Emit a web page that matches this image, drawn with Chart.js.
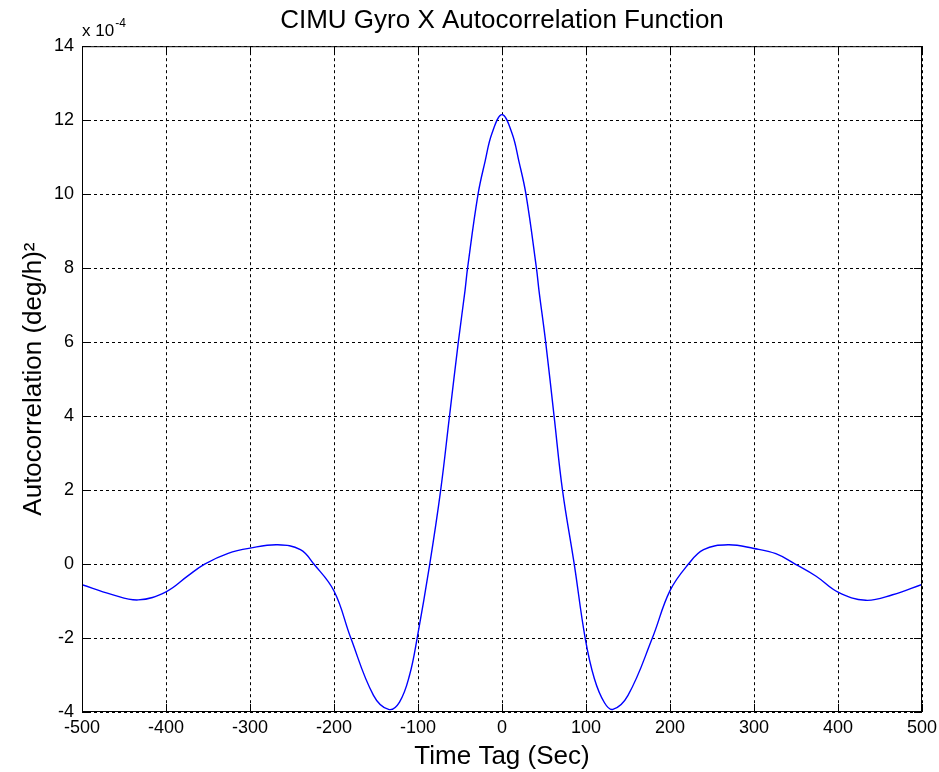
<!DOCTYPE html>
<html>
<head>
<meta charset="utf-8">
<script src="https://cdn.jsdelivr.net/npm/chart.js@4.4.1/dist/chart.umd.min.js"></script>
<style>
    html, body { margin: 0; padding: 0; background: #fff; }
    #acf-chart { display: block; }
</style>
</head>
<body>
<canvas id="acf-chart" width="939" height="772"></canvas>
<script>
// values, autocorrelation in units of 1e-4 (deg/h)^2
const lagSec = [
    -500, -465, -433, -400, -374, -354, -326, -300, -267, -240, -224, -200, -180,
    -153, -135, -122, -110, -101, -86, -73, -62.5, -52, -44, -41, -28.5, -20, -12,
    0,
    12, 20, 28.5, 41, 44, 52, 62, 72, 86, 99, 110, 122, 132, 150, 179, 200, 222,
    240, 269, 300, 326, 349, 374, 400, 433, 465, 500
];
const acfValues = [
    -0.56, -0.82, -0.97, -0.75, -0.32, 0.0, 0.29, 0.43, 0.52, 0.39, 0.0, -0.73, -2.0,
    -3.55, -3.93, -3.73, -3.0, -2.0, 0.0, 2.0, 4.0, 6.0, 7.4, 8.0, 10.0, 10.9, 11.64,
    12.15,
    11.64, 10.9, 10.0, 8.0, 7.4, 6.0, 4.0, 2.0, 0.0, -2.0, -3.1, -3.75, -3.93, -3.55, -2.0, -0.72, 0.0,
    0.39, 0.52, 0.42, 0.28, 0.0, -0.33, -0.76, -0.98, -0.83, -0.55
];
const xRange = [-500, 500];
const xStep = 100;
const yRange = [-4, 14];
const yStep = 2;

const titleText = 'CIMU Gyro X Autocorrelation Function';
const xTitle = 'Time Tag (Sec)';
const yTitle = 'Autocorrelation (deg/h)\u00B2';

const sansFont = "'Liberation Sans', Arial, sans-serif";

// matlab style box, inward ticks and the "x 10^-4" exponent
const axesBoxPlugin = {
    id: 'axesBox',
    afterDraw(chart) {
        const { ctx, chartArea: area, scales } = chart;
        const tickLen = 8;
        ctx.save();
        ctx.strokeStyle = '#000';
        ctx.lineWidth = 1;
        ctx.setLineDash([]);
        ctx.strokeRect(area.left + 0.5, area.top + 0.5, area.right - area.left - 1, area.bottom - area.top - 1);

        ctx.beginPath();
        scales.x.ticks.forEach(t => {
            const px = Math.round(scales.x.getPixelForValue(t.value)) + 0.5;
            ctx.moveTo(px, area.bottom);
            ctx.lineTo(px, area.bottom - tickLen);
            ctx.moveTo(px, area.top);
            ctx.lineTo(px, area.top + tickLen);
        });
        scales.y.ticks.forEach(t => {
            const py = Math.round(scales.y.getPixelForValue(t.value)) + 0.5;
            ctx.moveTo(area.left, py);
            ctx.lineTo(area.left + tickLen, py);
            ctx.moveTo(area.right, py);
            ctx.lineTo(area.right - tickLen, py);
        });
        ctx.stroke();

        ctx.fillStyle = '#000';
        ctx.textBaseline = 'alphabetic';
        ctx.textAlign = 'left';
        ctx.font = `17px ${sansFont}`;
        const base = 'x 10';
        ctx.fillText(base, area.left, area.top - 10);
        const w = ctx.measureText(base).width;
        ctx.font = `12px ${sansFont}`;
        ctx.fillText('-4', area.left + w + 1, area.top - 19);
        ctx.restore();
    }
};

new Chart(document.getElementById('acf-chart'), {
    type: 'line',
    data: {
        datasets: [{
            label: 'ACF',
            data: lagSec.map((x, i) => ({ x: x, y: acfValues[i] })),
            borderColor: '#0000ff',
            borderWidth: 1.4,
            pointRadius: 0,
            fill: false,
            tension: 0.4
        }]
    },
    options: {
        responsive: false,
        animation: false,
        layout: { padding: { left: 0, right: 17, top: 0, bottom: 0 } },
        plugins: {
            legend: { display: false },
            tooltip: { enabled: false },
            title: {
                display: true,
                fullSize: false,
                text: titleText,
                color: '#000',
                font: { family: sansFont, size: 26, weight: 'normal' },
                padding: { top: 5, bottom: 10 }
            }
        },
        scales: {
            x: {
                type: 'linear',
                min: xRange[0],
                max: xRange[1],
                afterFit(scale) {
                    scale.height = 60;
                    scale.paddingLeft = 0;
                    scale.paddingRight = 0;
                },
                ticks: {
                    stepSize: xStep,
                    color: '#000',
                    padding: 5,
                    maxRotation: 0,
                    font: { family: sansFont, size: 18 }
                },
                grid: { color: '#000', lineWidth: 1, drawTicks: false },
                border: { display: false, dash: [3, 3] },
                title: {
                    display: true,
                    text: xTitle,
                    color: '#000',
                    font: { family: sansFont, size: 26 },
                    padding: { top: 6, bottom: 0 }
                }
            },
            y: {
                type: 'linear',
                min: yRange[0],
                max: yRange[1],
                afterFit(scale) { scale.width = 82; },
                ticks: {
                    stepSize: yStep,
                    color: '#000',
                    padding: 8,
                    font: { family: sansFont, size: 18 }
                },
                grid: { color: '#000', lineWidth: 1, drawTicks: false },
                border: { display: false, dash: [3, 3] },
                title: {
                    display: true,
                    text: yTitle,
                    color: '#000',
                    font: { family: sansFont, size: 26 },
                    padding: { top: 18, bottom: 0 }
                }
            }
        }
    },
    plugins: [axesBoxPlugin]
});
</script>
</body>
</html>
